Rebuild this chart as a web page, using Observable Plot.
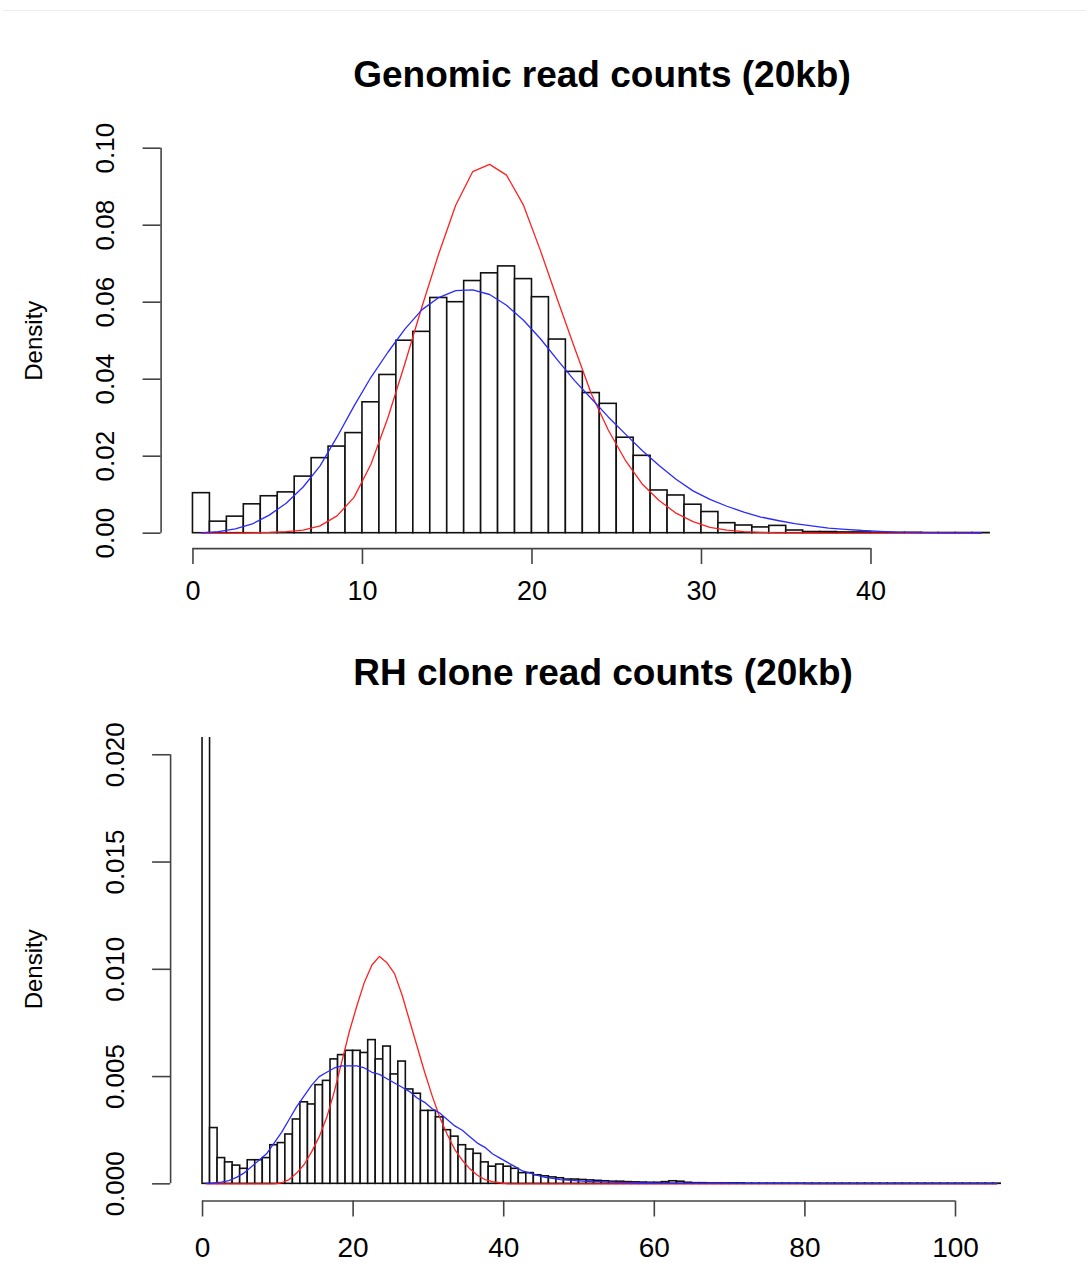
<!DOCTYPE html>
<html>
<head>
<meta charset="utf-8">
<script src="https://cdn.jsdelivr.net/npm/d3@7"></script>
<script src="https://cdn.jsdelivr.net/npm/@observablehq/plot@0.6"></script>
<style>
  body { margin: 0; background: #fff; }
  #wrap { position: relative; width: 1086px; height: 1263px; overflow: hidden; background: #fff;
          font-family: "Liberation Sans", Arial, Helvetica, sans-serif; }
  .topline { position: absolute; left: 3px; right: 0; top: 10px; height: 1px; background: #ececec; }
  .title { position: absolute; font-weight: bold; font-size: 37px; line-height: 42px; white-space: nowrap;
           transform: translateX(-50%); color: #000; }
  .panel { position: absolute; left: 0; }
  .panel svg { overflow: visible; }
</style>
</head>
<body>
<div id="wrap">
  <div class="topline"></div>
  <div class="title" id="t1" style="left:602px; top:54px;"></div>
  <div class="panel" id="p1" style="top:100px;"></div>
  <div class="title" id="t2" style="left:603px; top:652px;"></div>
  <div class="panel" id="p2" style="top:700px;"></div>
</div>
<script>
// ---------------- data ----------------
const titleGenomic = "Genomic read counts (20kb)";
const titleRH = "RH clone read counts (20kb)";
const yLabel = "Density";

// Genomic histogram: bins of width 1 starting at 0 (density per bin)
const genomicDensity = [
  0.0104, 0.0030, 0.0043, 0.0075, 0.0096, 0.0106, 0.0147, 0.0195, 0.0225, 0.0260,
  0.0340, 0.0411, 0.0500, 0.0523, 0.0611, 0.0600, 0.0655, 0.0675, 0.0693, 0.0660,
  0.0613, 0.0503, 0.0419, 0.0364, 0.0336, 0.0248, 0.0201, 0.0111, 0.0098, 0.0074,
  0.0055, 0.0026, 0.0020, 0.0015, 0.0019, 0.0007, 0.0003, 0.0003, 0.0002, 0.0002,
  0.0001, 0.0001, 0.0001, 0.00005, 0.00005, 0.00005, 0.00005
];
// fitted curves, evaluated at bin mid-points
const genomicRed = [
  0, 0, 0, 0.0001, 0.0002, 0.0004, 0.0008, 0.0019, 0.0045, 0.0093,
  0.0179, 0.0300, 0.0440, 0.0587, 0.0726, 0.0852, 0.0939, 0.0958, 0.0930, 0.0852,
  0.0734, 0.0607, 0.0483, 0.0362, 0.0268, 0.0190, 0.0128, 0.0085, 0.0052, 0.0030,
  0.0015, 0.0008, 0.0004, 0.0002, 0.0001, 0.0001, 0.00005, 0.00003, 0.00002, 0.00001,
  0, 0, 0, 0, 0, 0, 0
];
const genomicBlue = [
  0.0001, 0.0004, 0.0011, 0.0024, 0.0047, 0.0078, 0.0120, 0.0175, 0.0250, 0.0330,
  0.0405, 0.0470, 0.0530, 0.0580, 0.0612, 0.0630, 0.0632, 0.0620, 0.0592, 0.0553,
  0.0505, 0.0450, 0.0397, 0.0350, 0.0302, 0.0258, 0.0215, 0.0176, 0.0140, 0.0110,
  0.0088, 0.0070, 0.0055, 0.0042, 0.0033, 0.0025, 0.0019, 0.0013, 0.0010, 0.0007,
  0.0005, 0.0003, 0.0002, 0.00015, 0.0001, 0.00007, 0.00005
];
const genomicXTicks = [0, 10, 20, 30, 40];
const genomicYTicks = [0, 0.02, 0.04, 0.06, 0.08, 0.10];

// RH clone histogram: bins of width 1 starting at 0 (first bin runs off the top)
const rhDensity = [
  0.0500, 0.0026, 0.0012, 0.0010, 0.00085, 0.0007, 0.0011, 0.0011, 0.0012, 0.0018,
  0.0019, 0.0023, 0.0030, 0.0038, 0.0037, 0.0046, 0.0048, 0.0058, 0.0060, 0.0062,
  0.0062, 0.0061, 0.0067, 0.0058, 0.0064, 0.0051, 0.0057, 0.0044, 0.0042, 0.0034,
  0.0034, 0.0031, 0.0025, 0.0022, 0.0018, 0.0016, 0.0014, 0.0010, 0.0008, 0.0009,
  0.0008, 0.0007, 0.0005, 0.0005, 0.0004, 0.00035, 0.0003, 0.00026, 0.0002, 0.0002,
  0.00018, 0.00016, 0.00014, 0.00012, 0.0001, 0.0001, 0.00008, 0.00007, 0.00006, 0.00005,
  0.00005, 0.00008, 0.00012, 0.0001, 0.00005, 0.00003, 0.00003, 0.00002, 0.00002, 0.00002,
  0.00002, 0.00002, 0.00001, 0.00001, 0.00001, 0.00001, 0.00001, 0.00001, 0.00001, 0.00001,
  0.00001, 0.00001, 0.00001, 0.00001, 0.00001, 0.00001, 0.00001, 0.00001, 0.00001, 0.00001,
  0.00001, 0.00001, 0.00001, 0.00001, 0.00001, 0.00001, 0.00001, 0.00001, 0.00001, 0.00001,
  0.00001, 0.00001, 0.00001, 0.00001, 0.00001, 0.00001
];
const rhRed = [
  0, 0, 0, 0, 0, 0, 0, 0, 0, 0,
  0.00005, 0.0002, 0.0005, 0.0009, 0.0015, 0.0022, 0.0031, 0.0043, 0.0057, 0.0071,
  0.0083, 0.0094, 0.0102, 0.0106, 0.0103, 0.0098, 0.0088, 0.0076, 0.0064, 0.0052,
  0.0041, 0.0031, 0.0023, 0.0016, 0.0011, 0.0007, 0.0004, 0.0002, 0.0001, 0.00005,
  0, 0, 0, 0, 0, 0, 0, 0, 0, 0,
  0, 0, 0, 0, 0, 0, 0, 0, 0, 0,
  0, 0, 0, 0, 0, 0, 0, 0, 0, 0,
  0, 0, 0, 0, 0, 0, 0, 0, 0, 0,
  0, 0, 0, 0, 0, 0, 0, 0, 0, 0,
  0, 0, 0, 0, 0, 0, 0, 0, 0, 0,
  0, 0, 0, 0, 0, 0
];
const rhBlue = [
  0.00002, 0.00004, 0.00008, 0.00015, 0.0003, 0.0005, 0.0008, 0.0011, 0.0014, 0.0019,
  0.0024, 0.0030, 0.0036, 0.0041, 0.0046, 0.0050, 0.0052, 0.0054, 0.0055, 0.0055,
  0.0055, 0.0054, 0.0052, 0.0051, 0.0049, 0.0047, 0.0045, 0.0043, 0.0040, 0.0038,
  0.0035, 0.0033, 0.0030, 0.0027, 0.0025, 0.0022, 0.0019, 0.0017, 0.0014, 0.0012,
  0.0010, 0.0008, 0.0006, 0.0005, 0.0004, 0.0003, 0.00025, 0.0002, 0.00017, 0.00015,
  0.00013, 0.00011, 0.0001, 0.00009, 0.00008, 0.00007, 0.00006, 0.00005, 0.00004, 0.00004,
  0.00003, 0.00003, 0.00003, 0.00003, 0.00003, 0.00003, 0.00003, 0.00003, 0.00003, 0.00003,
  0.00002, 0.00002, 0.00002, 0.00002, 0.00002, 0.00002, 0.00002, 0.00002, 0.00002, 0.00002,
  0.00001, 0.00001, 0.00001, 0.00001, 0.00001, 0.00001, 0.00001, 0.00001, 0.00001, 0.00001,
  0.00001, 0.00001, 0.00001, 0.00001, 0.00001, 0.00001, 0.00001, 0.00001, 0.00001, 0.00001,
  0.00001, 0.00001, 0.00001, 0.00001, 0.00001, 0.00001
];
const rhXTicks = [0, 20, 40, 60, 80, 100];
const rhYTicks = [0, 0.005, 0.010, 0.015, 0.020];

// ---------------- drawing ----------------
const FONT = '"Liberation Sans", Arial, Helvetica, sans-serif';
const AXIS = "#444";

// R-style plot region: data range extended by 4% on each side
function rRange(lo, hi) { const e = (hi - lo) * 0.04; return [lo - e, hi + e]; }

function panel(o) {
  const nb = o.density.length;
  const breaks = d3.range(0, nb + 1);             // bin edges (width 1)
  const mids = d3.range(0, nb).map(i => i + 0.5);  // curve sample positions
  const bars = o.density.map((d, i) => ({x1: breaks[i], x2: breaks[i + 1], d}));
  const red = mids.map((x, i) => ({x, y: o.red[i]}));
  const blue = mids.map((x, i) => ({x, y: o.blue[i]}));
  const xDomain = rRange(breaks[0], breaks[nb]);
  const yDomain = rRange(0, o.yTicks[o.yTicks.length - 1]);
  return Plot.plot({
    width: 1086,
    height: o.height,
    marginTop: o.mt, marginBottom: o.mb, marginLeft: o.ml, marginRight: o.mr,
    x: {domain: xDomain},
    y: {domain: yDomain},
    style: {fontFamily: FONT, color: "#000", background: "transparent", overflow: "visible"},
    marks: [
      Plot.rect(bars, {x1: "x1", x2: "x2", y1: () => 0, y2: "d",
        fill: "white", stroke: "#111", strokeWidth: 1.6, clip: true}),
      Plot.line(red, {x: "x", y: "y", stroke: "#ff2020", strokeWidth: 1.3}),
      Plot.line(blue, {x: "x", y: "y", stroke: "#2a2aff", strokeWidth: 1.3}),
      Plot.ruleX([xDomain[0]], {y1: o.yTicks[0], y2: o.yTicks[o.yTicks.length - 1],
        stroke: AXIS, strokeWidth: 1.6}),
      Plot.ruleY([yDomain[0]], {x1: o.xTicks[0], x2: o.xTicks[o.xTicks.length - 1],
        stroke: AXIS, strokeWidth: 1.6}),
      Plot.axisY(o.yTicks, {tickSize: 18, tickRotate: -90, tickPadding: o.yPad,
        tickFormat: o.yFmt, fontSize: o.yFont, stroke: AXIS, strokeWidth: 1.6, label: null}),
      Plot.axisX(o.xTicks, {tickSize: 16, tickPadding: o.xPad, tickFormat: d3.format("d"),
        fontSize: o.xFont, stroke: AXIS, strokeWidth: 1.6, label: null}),
      Plot.text([yLabel], {frameAnchor: "left", textAnchor: "middle", lineAnchor: "middle",
        rotate: -90, dx: o.labDx, fontSize: 24, fill: "#000"})
    ]
  });
}

document.getElementById("t1").textContent = titleGenomic;
document.getElementById("t2").textContent = titleRH;

document.getElementById("p1").append(panel({
  density: genomicDensity, red: genomicRed, blue: genomicBlue,
  xTicks: genomicXTicks, yTicks: genomicYTicks, yFmt: d3.format(".2f"),
  height: 540, mt: 32.3, mb: 91.9, ml: 160.6, mr: 65,
  yPad: 29, xPad: 16, yFont: 26, xFont: 27, labDx: -127
}));

document.getElementById("p2").append(panel({
  density: rhDensity, red: rhRed, blue: rhBlue,
  xTicks: rhXTicks, yTicks: rhYTicks, yFmt: d3.format(".3f"),
  height: 563, mt: 37.1, mb: 62.5, ml: 170.1, mr: 53.9,
  yPad: 29, xPad: 20, yFont: 26, xFont: 28, labDx: -136
}));
</script>
</body>
</html>
